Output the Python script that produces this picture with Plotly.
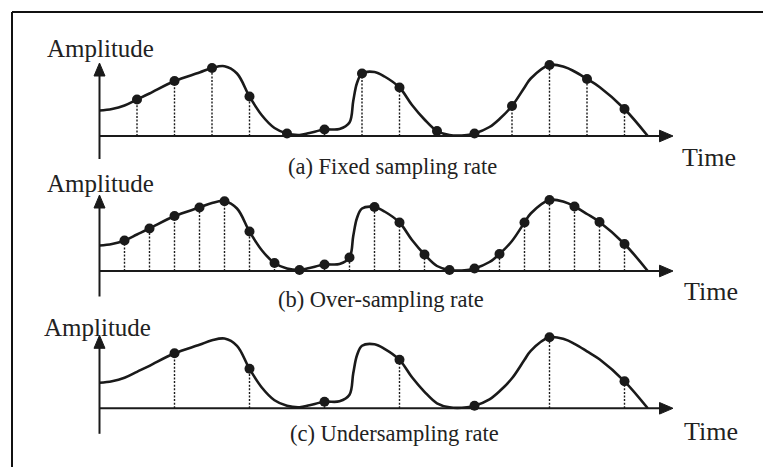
import plotly.graph_objects as go

# ---------------- data ----------------
# time in units of 1/3 of the fixed sampling interval
curve_t = [0, 1, 2, 3, 4, 6, 8, 9, 10, 11, 12, 13, 14, 15, 16, 16.8, 18,
           19.2, 20, 20.3, 20.6, 21, 22, 22.8, 24, 25, 26, 27, 28, 29.4, 30, 31.2,
           32, 33, 34, 34.5, 36, 37.2, 38, 39, 40, 42, 43.86]
curve_amp = [25.5, 27, 30.5, 36.5, 42.5, 55, 63.5, 68, 69.8, 62.5, 39.5, 20.5, 8, 2.5, 1, 3, 6.5,
             7, 13.5, 35, 53, 62.5, 64, 59.5, 48.5, 31, 16.5, 5, 1, 1, 2.5, 9,
             17, 30, 48.5, 57.5, 71, 69, 64.5, 57, 49, 27, 0]

fixed_t = [3, 6, 9, 12, 15, 18, 21, 24, 27, 30, 33, 36, 39, 42]
over_t = [2, 4, 6, 8, 10, 12, 14, 16, 18, 20, 22, 24, 26, 28, 30, 32, 34, 36, 38, 40, 42]
under_t = [6, 12, 18, 24, 30, 36, 42]

captions = ["(a) Fixed sampling rate", "(b) Over-sampling rate", "(c) Undersampling rate"]
y_label = "Amplitude"
x_label = "Time"

# ---------------- layout helpers ----------------
W, H = 763, 467
X0_PX = 99.5          # pixel x of time 0
PX_PER_T = 12.5       # pixels per time unit
baselines = [136, 271, 408.3]      # pixel y of each panel's time axis
ax_bottom = [23, 25.5, 25.5]       # y-axis extension below time axis (px)
ax_top = [73, 76, 73]              # arrow tip above time axis (px)
t_arrow = (673 - X0_PX) / PX_PER_T
INK = "#1a1a1a"
FONT = "Liberation Serif, Times New Roman, serif"

lookup = dict(zip(curve_t, curve_amp))
samples = [fixed_t, over_t, under_t]

fig = go.Figure()
shapes = []
annotations = []

for i, (base, smp) in enumerate(zip(baselines, samples)):
    ya = "y" if i == 0 else f"y{i+1}"
    # stems
    sx, sy = [], []
    for t in smp:
        sx += [t, t, None]
        sy += [0, lookup[t], None]
    fig.add_trace(go.Scatter(x=sx, y=sy, mode="lines", yaxis=ya, xaxis="x",
                             line=dict(color=INK, width=1.4, dash="2px,1.6px"),
                             hoverinfo="skip", showlegend=False))
    # curve
    fig.add_trace(go.Scatter(x=curve_t, y=curve_amp, mode="lines", yaxis=ya, xaxis="x",
                             line=dict(color=INK, width=2.6, shape="spline", smoothing=1.0),
                             hoverinfo="skip", showlegend=False))
    # sample points
    fig.add_trace(go.Scatter(x=smp, y=[lookup[t] for t in smp], mode="markers",
                             yaxis=ya, xaxis="x",
                             marker=dict(color=INK, size=10, line=dict(width=0)),
                             hoverinfo="skip", showlegend=False))

    yref = ya
    # axes lines
    shapes.append(dict(type="line", xref="x", yref=yref, x0=0, x1=t_arrow - 1.0,
                       y0=0, y1=0, line=dict(color=INK, width=2)))
    shapes.append(dict(type="line", xref="x", yref=yref, x0=0, x1=0,
                       y0=-ax_bottom[i], y1=ax_top[i] - 12, line=dict(color=INK, width=2)))
    # arrow heads
    hw = 5.5 / PX_PER_T
    shapes.append(dict(type="path", xref="x", yref=yref,
                       path=f"M {-hw},{ax_top[i]-13} L 0,{ax_top[i]} L {hw},{ax_top[i]-13} Z",
                       fillcolor=INK, line=dict(color=INK, width=1)))
    al = 13.5 / PX_PER_T
    shapes.append(dict(type="path", xref="x", yref=yref,
                       path=f"M {t_arrow-al},5.8 L {t_arrow},0 L {t_arrow-al},-5.8 Z",
                       fillcolor=INK, line=dict(color=INK, width=1)))

# text labels (pixel positions converted to paper)
def px(x, y):
    return x / W, 1 - y / H

amp_pos = [(100, 48), (100, 183), (97, 327)]
time_pos = [(709, 157.5), (711, 291.5), (711, 431)]
cap_pos = [(392, 166), (381, 299), (394, 433)]
for i in range(3):
    for (x, y), txt, size in ((amp_pos[i], y_label, 25), (time_pos[i], x_label, 26),
                              (cap_pos[i], captions[i], 22.5)):
        xp, yp = px(x, y)
        annotations.append(dict(x=xp, y=yp, xref="paper", yref="paper", text=txt,
                                showarrow=False, xanchor="center", yanchor="middle",
                                font=dict(family=FONT, size=size, color="#222222")))

# frame (top and left edges)
shapes.append(dict(type="line", xref="paper", yref="paper", x0=12 / W, x1=1.0,
                   y0=1 - 12 / H, y1=1 - 12 / H, line=dict(color="#111111", width=2)))
shapes.append(dict(type="line", xref="paper", yref="paper", x0=12 / W, x1=12 / W,
                   y0=1 - 12 / H, y1=0, line=dict(color="#111111", width=2)))

layout = dict(
    width=W, height=H, margin=dict(l=0, r=0, t=0, b=0),
    paper_bgcolor="white", plot_bgcolor="white",
    xaxis=dict(domain=[0, 1], range=[(0 - X0_PX) / PX_PER_T, (W - X0_PX) / PX_PER_T],
               visible=False, fixedrange=True),
    shapes=shapes, annotations=annotations,
)
for i, base in enumerate(baselines):
    key = "yaxis" if i == 0 else f"yaxis{i+1}"
    ax = dict(domain=[0, 1], range=[base - H, base], visible=False, fixedrange=True)
    if i > 0:
        ax["overlaying"] = "y"
    layout[key] = ax

fig.update_layout(**layout)
fig.write_html("out.html", config={"displayModeBar": False},
               post_script="document.body.style.margin='0px';document.body.style.overflow='hidden';")
